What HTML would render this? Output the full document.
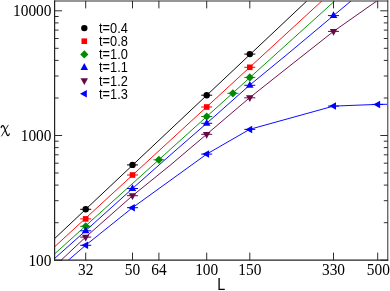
<!DOCTYPE html><html><head><meta charset="utf-8"><style>html,body{margin:0;padding:0;background:#fff}svg{display:block;will-change:transform}text{font-family:"Liberation Serif",serif;fill:#000}.s{font-family:"Liberation Sans",sans-serif}</style></head><body>
<svg width="390" height="291" viewBox="0 0 390 291">
<rect width="390" height="291" fill="#fff"/>
<defs><clipPath id="c"><rect x="54.6" y="0.9" width="333.2" height="259.20000000000005"/></clipPath></defs>
<g clip-path="url(#c)" fill="none" stroke-width="0.95">
<polyline stroke="#000" points="54.7,238.5 306.8,1.0"/>
<polyline stroke="#ff0000" points="54.7,246.7 321.8,1.0"/>
<polyline stroke="#008b00" points="54.7,253.8 334.7,1.0"/>
<polyline stroke="#0000ff" points="54.7,258.4 85.6,230.8 132.5,188.5 170.0,155.3 206.7,123.3 249.5,85.3 290.0,52.0 333.5,15.6 351.0,1.0"/>
<polyline stroke="#670748" points="60.9,260.4 85.6,237.1 132.5,195.7 170.0,165.4 206.7,134.3 249.5,97.8 290.0,65.7 333.5,31.4 376.8,1.0"/>
<polyline stroke="#0000ff" points="68.1,260.4 85.6,245.3 132.5,207.7 206.7,154.1 249.5,129.4 333.5,106.1 377.6,104.4 387.0,104.3"/>
</g>
<g><line x1="80.2" y1="209.3" x2="91.2" y2="209.3" stroke="#000" stroke-width="1"/><circle cx="85.7" cy="209.3" r="3.2" fill="#000"/><line x1="127.0" y1="164.9" x2="138.0" y2="164.9" stroke="#000" stroke-width="1"/><circle cx="132.5" cy="164.9" r="3.2" fill="#000"/><line x1="201.2" y1="95.2" x2="212.2" y2="95.2" stroke="#000" stroke-width="1"/><circle cx="206.7" cy="95.2" r="3.2" fill="#000"/><line x1="244.3" y1="54.1" x2="255.3" y2="54.1" stroke="#000" stroke-width="1"/><circle cx="249.8" cy="54.1" r="3.2" fill="#000"/><line x1="80.2" y1="218.9" x2="91.2" y2="218.9" stroke="#ff0000" stroke-width="1"/><rect x="82.9" y="216.1" width="5.6" height="5.6" fill="#ff0000"/><line x1="127.0" y1="175.0" x2="138.0" y2="175.0" stroke="#ff0000" stroke-width="1"/><rect x="129.7" y="172.2" width="5.6" height="5.6" fill="#ff0000"/><line x1="201.2" y1="107.0" x2="212.2" y2="107.0" stroke="#ff0000" stroke-width="1"/><rect x="203.9" y="104.2" width="5.6" height="5.6" fill="#ff0000"/><line x1="244.3" y1="67.3" x2="255.3" y2="67.3" stroke="#ff0000" stroke-width="1"/><rect x="247.0" y="64.5" width="5.6" height="5.6" fill="#ff0000"/><line x1="80.2" y1="226.3" x2="91.2" y2="226.3" stroke="#008b00" stroke-width="1"/><polygon points="81.6,226.3 85.7,222.2 89.8,226.3 85.7,230.4" fill="#008b00"/><line x1="153.4" y1="159.8" x2="164.4" y2="159.8" stroke="#008b00" stroke-width="1"/><polygon points="154.8,159.8 158.9,155.7 163.0,159.8 158.9,163.9" fill="#008b00"/><line x1="201.2" y1="116.5" x2="212.2" y2="116.5" stroke="#008b00" stroke-width="1"/><polygon points="202.6,116.5 206.7,112.4 210.8,116.5 206.7,120.6" fill="#008b00"/><line x1="227.4" y1="93.3" x2="238.4" y2="93.3" stroke="#008b00" stroke-width="1"/><polygon points="228.8,93.3 232.9,89.2 237.0,93.3 232.9,97.4" fill="#008b00"/><line x1="244.3" y1="77.4" x2="255.3" y2="77.4" stroke="#008b00" stroke-width="1"/><polygon points="245.7,77.4 249.8,73.3 253.9,77.4 249.8,81.5" fill="#008b00"/><line x1="80.2" y1="230.8" x2="91.2" y2="230.8" stroke="#0000ff" stroke-width="1"/><polygon points="81.9,233.2 89.4,233.2 85.7,226.5" fill="#0000ff"/><line x1="127.0" y1="188.5" x2="138.0" y2="188.5" stroke="#0000ff" stroke-width="1"/><polygon points="128.7,190.9 136.2,190.9 132.5,184.2" fill="#0000ff"/><line x1="201.2" y1="123.3" x2="212.2" y2="123.3" stroke="#0000ff" stroke-width="1"/><polygon points="202.9,125.8 210.4,125.8 206.7,119.0" fill="#0000ff"/><line x1="244.3" y1="85.3" x2="255.3" y2="85.3" stroke="#0000ff" stroke-width="1"/><polygon points="246.0,87.8 253.5,87.8 249.8,81.0" fill="#0000ff"/><line x1="328.0" y1="15.6" x2="339.0" y2="15.6" stroke="#0000ff" stroke-width="1"/><polygon points="329.8,18.1 337.3,18.1 333.5,11.2" fill="#0000ff"/><line x1="80.2" y1="237.1" x2="91.2" y2="237.1" stroke="#670748" stroke-width="1"/><polygon points="81.9,234.7 89.4,234.7 85.7,241.4" fill="#670748"/><line x1="127.0" y1="195.7" x2="138.0" y2="195.7" stroke="#670748" stroke-width="1"/><polygon points="128.7,193.2 136.2,193.2 132.5,200.0" fill="#670748"/><line x1="201.2" y1="134.3" x2="212.2" y2="134.3" stroke="#670748" stroke-width="1"/><polygon points="202.9,131.9 210.4,131.9 206.7,138.7" fill="#670748"/><line x1="244.3" y1="97.8" x2="255.3" y2="97.8" stroke="#670748" stroke-width="1"/><polygon points="246.0,95.3 253.5,95.3 249.8,102.1" fill="#670748"/><line x1="328.0" y1="31.4" x2="339.0" y2="31.4" stroke="#670748" stroke-width="1"/><polygon points="329.8,28.9 337.3,28.9 333.5,35.8" fill="#670748"/><line x1="80.2" y1="245.3" x2="91.2" y2="245.3" stroke="#0000ff" stroke-width="1"/><polygon points="88.1,241.6 88.1,249.1 81.3,245.3" fill="#0000ff"/><line x1="127.0" y1="207.7" x2="138.0" y2="207.7" stroke="#0000ff" stroke-width="1"/><polygon points="134.9,203.9 134.9,211.4 128.1,207.7" fill="#0000ff"/><line x1="201.2" y1="154.1" x2="212.2" y2="154.1" stroke="#0000ff" stroke-width="1"/><polygon points="209.1,150.3 209.1,157.8 202.3,154.1" fill="#0000ff"/><line x1="244.3" y1="129.4" x2="255.3" y2="129.4" stroke="#0000ff" stroke-width="1"/><polygon points="252.2,125.7 252.2,133.2 245.4,129.4" fill="#0000ff"/><line x1="328.0" y1="106.1" x2="339.0" y2="106.1" stroke="#0000ff" stroke-width="1"/><polygon points="336.0,102.3 336.0,109.8 329.2,106.1" fill="#0000ff"/><line x1="372.2" y1="104.4" x2="383.2" y2="104.4" stroke="#0000ff" stroke-width="1"/><polygon points="380.1,100.7 380.1,108.2 373.3,104.4" fill="#0000ff"/></g>
<circle cx="84.3" cy="28.1" r="3.2" fill="#000"/>
<rect x="81.5" y="38.4" width="5.6" height="5.6" fill="#ff0000"/>
<polygon points="80.2,54.4 84.3,50.2 88.4,54.4 84.3,58.5" fill="#008b00"/>
<polygon points="80.5,70.0 88.0,70.0 84.3,63.1" fill="#0000ff"/>
<polygon points="80.5,78.2 88.0,78.2 84.3,85.0" fill="#670748"/>
<polygon points="86.8,90.0 86.8,97.5 80.0,93.8" fill="#0000ff"/>
<text class="s" transform="translate(99.0,32.9) scale(1,1.12)" font-size="12.8">t=0.4</text>
<text class="s" transform="translate(99.0,46.0) scale(1,1.12)" font-size="12.8">t=0.8</text>
<text class="s" transform="translate(99.0,59.1) scale(1,1.12)" font-size="12.8">t=1.0</text>
<text class="s" transform="translate(99.0,72.3) scale(1,1.12)" font-size="12.8">t=1.1</text>
<text class="s" transform="translate(99.0,85.5) scale(1,1.12)" font-size="12.8">t=1.2</text>
<text class="s" transform="translate(99.0,98.6) scale(1,1.12)" font-size="12.8">t=1.3</text>
<g stroke="#222" fill="none"><line x1="54.6" y1="0.4" x2="54.6" y2="260.7" stroke-width="1.2"/><line x1="54" y1="260.1" x2="388.3" y2="260.1" stroke-width="1.15"/><line x1="54" y1="1.0" x2="388.3" y2="1.0" stroke-width="0.95"/><line x1="387.8" y1="0.4" x2="387.8" y2="260.7" stroke-width="0.95"/></g>
<path d="M85.7 260.1v-7.5M85.7 0.9v7.5M132.5 260.1v-7.5M132.5 0.9v7.5M158.9 260.1v-7.5M158.9 0.9v7.5M206.7 260.1v-7.5M206.7 0.9v7.5M249.8 260.1v-7.5M249.8 0.9v7.5M333.5 260.1v-7.5M333.5 0.9v7.5M377.7 260.1v-7.5M377.7 0.9v7.5M54.6 260.2h7.5M387.8 260.2h-7.5M54.6 222.7h4.0M387.8 222.7h-4.0M54.6 200.7h4.0M387.8 200.7h-4.0M54.6 185.1h4.0M387.8 185.1h-4.0M54.6 173.0h4.0M387.8 173.0h-4.0M54.6 163.2h4.0M387.8 163.2h-4.0M54.6 154.8h4.0M387.8 154.8h-4.0M54.6 147.6h4.0M387.8 147.6h-4.0M54.6 141.2h4.0M387.8 141.2h-4.0M54.6 135.5h7.5M387.8 135.5h-7.5M54.6 98.0h4.0M387.8 98.0h-4.0M54.6 76.0h4.0M387.8 76.0h-4.0M54.6 60.4h4.0M387.8 60.4h-4.0M54.6 48.3h4.0M387.8 48.3h-4.0M54.6 38.5h4.0M387.8 38.5h-4.0M54.6 30.1h4.0M387.8 30.1h-4.0M54.6 22.9h4.0M387.8 22.9h-4.0M54.6 16.5h4.0M387.8 16.5h-4.0M54.6 10.8h7.5M387.8 10.8h-7.5" stroke="#222" stroke-width="0.95" fill="none"/>
<text transform="translate(85.7,274.7) scale(1,1.1)" font-size="15.4" text-anchor="middle">32</text>
<text transform="translate(132.5,274.7) scale(1,1.1)" font-size="15.4" text-anchor="middle">50</text>
<text transform="translate(158.9,274.7) scale(1,1.1)" font-size="15.4" text-anchor="middle">64</text>
<text transform="translate(206.7,274.7) scale(1,1.1)" font-size="15.4" text-anchor="middle">100</text>
<text transform="translate(249.8,274.7) scale(1,1.1)" font-size="15.4" text-anchor="middle">150</text>
<text transform="translate(333.5,274.7) scale(1,1.1)" font-size="15.4" text-anchor="middle">330</text>
<text transform="translate(378.3,274.7) scale(1,1.1)" font-size="15.4" text-anchor="middle">500</text>
<text transform="translate(51.5,265.7) scale(1,1.1)" font-size="15.4" text-anchor="end">100</text>
<text transform="translate(51.5,141.0) scale(1,1.1)" font-size="15.4" text-anchor="end">1000</text>
<text transform="translate(51.5,16.3) scale(1,1.1)" font-size="15.4" text-anchor="end">10000</text>
<g aria-label="χ" transform="translate(0.4,0)" fill="none" stroke="#000" stroke-linecap="round"><path d="M0.8 127.6C1 126.2 1.8 125.4 2.6 125.6C3.4 125.9 3.8 127 4.4 128.8L6.2 133.8C6.6 135 7 135.7 7.7 135.6C8.3 135.5 8.7 134.8 8.9 133.9" stroke-width="1.15"/><path d="M7.8 125.2L1.2 136" stroke-width="0.85"/></g>
<text class="s" transform="translate(217.2,289.7) scale(1,1.13)" font-size="14.4">L</text>
</svg></body></html>
